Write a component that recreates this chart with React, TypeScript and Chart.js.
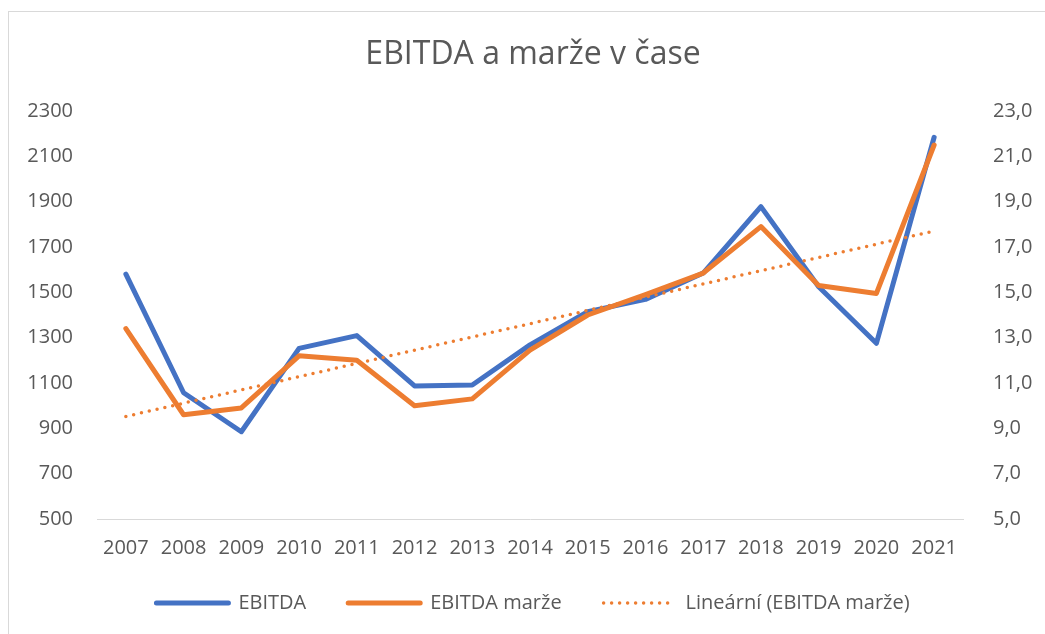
import React, { useEffect, useRef } from "react";
import { Chart, registerables } from "chart.js";

Chart.register(...registerables);

const years = ["2007", "2008", "2009", "2010", "2011", "2012", "2013", "2014", "2015", "2016", "2017", "2018", "2019", "2020", "2021"];
const ebitda = [1580, 1057, 885, 1253, 1309, 1087, 1091, 1268, 1415, 1469, 1585, 1878, 1525, 1275, 2184];
const margin = [13.4, 9.6, 9.9, 12.2, 12.0, 10.0, 10.3, 12.45, 14.0, 14.9, 15.85, 17.9, 15.3, 14.95, 21.5];
const title = "EBITDA a marže v čase";
const seriesNames = ["EBITDA", "EBITDA marže", "Lineární (EBITDA marže)"];

// least-squares linear trend of the margin series (as the spreadsheet trendline does)
function linearTrend(values: number[]): number[] {
  const n = values.length;
  const mx = (n - 1) / 2;
  const my = values.reduce((a, b) => a + b, 0) / n;
  let sxy = 0;
  let sxx = 0;
  values.forEach((v, i) => {
    sxy += (i - mx) * (v - my);
    sxx += (i - mx) * (i - mx);
  });
  const slope = sxy / sxx;
  return values.map((_, i) => my + slope * (i - mx));
}

const FONT = "'Open Sans', 'Noto Sans', sans-serif";
const TEXT = "#595959";

// nudges the legend row up a little after layout
const legendNudge = {
  id: "legendNudge",
  afterLayout(chart: any) {
    const lg = chart.legend;
    if (lg) {
      lg.top -= 9;
      lg.bottom -= 9;
    }
  },
};

export default function App() {
  const ref = useRef<HTMLCanvasElement | null>(null);

  useEffect(() => {
    if (!ref.current) return;
    const chart = new Chart(ref.current, {
      type: "line",
      plugins: [legendNudge],
      data: {
        labels: years,
        datasets: [
          {
            label: seriesNames[0],
            data: ebitda,
            yAxisID: "y",
            borderColor: "#4472C4",
            backgroundColor: "#4472C4",
            borderWidth: 5,
            borderCapStyle: "round",
            borderJoinStyle: "round",
            pointRadius: 0,
            tension: 0,
            order: 3,
          },
          {
            label: seriesNames[1],
            data: margin,
            yAxisID: "y1",
            borderColor: "#ED7D31",
            backgroundColor: "#ED7D31",
            borderWidth: 5,
            borderCapStyle: "round",
            borderJoinStyle: "round",
            pointRadius: 0,
            tension: 0,
            order: 2,
          },
          {
            label: seriesNames[2],
            data: linearTrend(margin),
            yAxisID: "y1",
            borderColor: "#ED7D31",
            backgroundColor: "#ED7D31",
            borderWidth: 3.5,
            borderDash: [0, 8],
            borderCapStyle: "round",
            pointRadius: 0,
            tension: 0,
            order: 1,
          },
        ],
      },
      options: {
        responsive: false,
        animation: false,
        layout: { padding: { left: 12, right: 0, top: 0, bottom: 2 } },
        plugins: {
          tooltip: { enabled: false },
          title: {
            display: true,
            text: title,
            color: TEXT,
            font: { family: FONT, size: 32, weight: "normal" },
            padding: { top: 24, bottom: 36.6 },
          },
          legend: {
            position: "bottom",
            labels: {
              usePointStyle: true,
              pointStyle: "line",
              pointStyleWidth: 72,
              color: TEXT,
              font: { family: FONT, size: 20 },
              padding: 42,
              sort: (a: any, b: any) => a.datasetIndex - b.datasetIndex,
              generateLabels: (c: any) => {
                const items = Chart.defaults.plugins.legend.labels.generateLabels(c);
                items.forEach((it: any) => {
                  const ds: any = c.data.datasets[it.datasetIndex];
                  it.lineWidth = ds.borderWidth;
                  it.lineDash = ds.borderDash || [];
                  it.lineCap = "round";
                  it.strokeStyle = ds.borderColor;
                });
                return items;
              },
            },
          },
        },
        scales: {
          x: {
            offset: true,
            grid: { display: false, drawTicks: false, offset: true },
            border: { display: true, color: "#d9d9d9", width: 1 },
            ticks: {
              color: TEXT,
              font: { family: FONT, size: 20 },
              padding: 17,
              maxRotation: 0,
              autoSkip: false,
            },
            afterFit: (s: any) => {
              s.height = 41;
            },
          },
          y: {
            position: "left",
            min: 500,
            max: 2300,
            grid: { display: false, drawTicks: false },
            border: { display: false },
            ticks: {
              stepSize: 200,
              color: TEXT,
              font: { family: FONT, size: 20 },
              padding: 24,
              callback: (v: any) => String(v),
            },
            afterFit: (s: any) => {
              s.width = 76;
            },
          },
          y1: {
            position: "right",
            min: 5,
            max: 23,
            grid: { display: false, drawTicks: false },
            border: { display: false },
            ticks: {
              stepSize: 2,
              color: TEXT,
              font: { family: FONT, size: 20 },
              padding: 30,
              callback: (v: any) => Number(v).toFixed(1).replace(".", ","),
            },
            afterFit: (s: any) => {
              s.width = 82;
            },
          },
        },
      },
    });
    return () => chart.destroy();
  }, []);

  return (
    <div
      style={{
        position: "fixed",
        left: 8,
        top: 11,
        width: 1037,
        height: 623,
        borderTop: "1px solid #d9d9d9",
        borderLeft: "1px solid #d9d9d9",
        boxSizing: "border-box",
        background: "#fff",
      }}
    >
      <canvas ref={ref} width={1036} height={622} style={{ display: "block" }} />
    </div>
  );
}
